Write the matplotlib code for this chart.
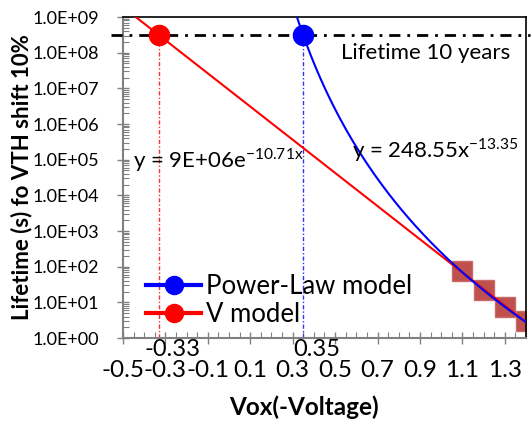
import numpy as np
import matplotlib
matplotlib.use("Agg")
import matplotlib.pyplot as plt
from matplotlib.ticker import FixedLocator, LogLocator, NullFormatter

plt.rcParams['font.family'] = ['Lato', 'DejaVu Sans']

# mesures (carrés)
vox_mes = [1.1, 1.2, 1.3, 1.4]
life_mes = [75, 22, 7.5, 3.0]

# modèles
a_exp, b_exp = 9e6, -10.71
a_pow, b_pow = 248.55, -13.35
ten_years = 3.15e8
x_v = -0.33
x_pl = 0.35

xticks = [-0.5, -0.3, -0.1, 0.1, 0.3, 0.5, 0.7, 0.9, 1.1, 1.3]
yticks = [1e0, 1e1, 1e2, 1e3, 1e4, 1e5, 1e6, 1e7, 1e8, 1e9]
ylabels = ["1.0E+00", "1.0E+01", "1.0E+02", "1.0E+03", "1.0E+04",
           "1.0E+05", "1.0E+06", "1.0E+07", "1.0E+08", "1.0E+09"]

fig = plt.figure(figsize=(5.32, 4.23), dpi=100)
ax = fig.add_axes([123/532, 1-338/423, (526-123)/532, (338-17)/423])

xe = np.linspace(-0.5, 1.4, 200)
ax.plot(xe, a_exp*np.exp(b_exp*xe), color="red", lw=1.5, zorder=3)
xp = np.linspace(0.32, 1.4, 200)
ax.plot(xp, a_pow*xp**b_pow, color="blue", lw=1.5, zorder=3)

ax.plot(vox_mes, life_mes, "s", color="#C0504D", mec="#C86A68", ms=14.5, zorder=2)

ax.plot([-0.555, 1.42], [ten_years, ten_years], color="black",
        ls=(0, (4, 2.5, 1, 2.5)), lw=2, zorder=4, clip_on=False)
ax.plot([x_v, x_v], [1, ten_years], color="#FF3030", ls=(0, (3, 1.5, 1, 1.5)), lw=1)
ax.plot([x_pl, x_pl], [1, ten_years], color="#3030FF", ls=(0, (3, 1.5, 1, 1.5)), lw=1)

ax.plot([x_pl], [ten_years], "o", color="blue", ms=14.5, zorder=5, clip_on=False)
ax.plot([x_v], [ten_years], "o", color="red", ms=14.5, zorder=5, clip_on=False)
# lignes de légende
h1, = ax.plot([], [], "-o", color="blue", lw=3, ms=13)
h2, = ax.plot([], [], "-o", color="red", lw=3, ms=13)
ax.legend([h1, h2], ["Power-Law model", "V model"], loc="lower left",
          bbox_to_anchor=(146/532, (423-327)/423), bbox_transform=fig.transFigure,
          frameon=False, fontsize=18.5, borderpad=0, borderaxespad=0,
          handlelength=2.15, handletextpad=0.2, labelspacing=0.12)

ax.set_xlim(-0.5, 1.4)
ax.set_yscale("log")
ax.set_ylim(1, 1e9)
ax.xaxis.set_major_locator(FixedLocator(xticks))
ax.xaxis.set_minor_locator(FixedLocator(np.arange(-0.5, 1.41, 0.05)))
ax.set_xticklabels([str(v) for v in xticks], fontsize=17.5)
ax.yaxis.set_major_locator(FixedLocator(yticks))
ax.yaxis.set_minor_locator(LogLocator(base=10, subs=np.arange(2, 10)))
ax.yaxis.set_minor_formatter(NullFormatter())
ax.set_yticklabels(ylabels, fontsize=13)

ax.tick_params(axis="both", which="major", direction="inout", length=8, color="gray", width=1)
ax.tick_params(axis="both", which="minor", direction="in", length=4, color="gray", width=0.8)
ax.tick_params(axis="x", pad=12)
ax.tick_params(axis="y", pad=13)
for s in ["left", "bottom"]:
    ax.spines[s].set_color("gray")
    ax.spines[s].set_linewidth(1.5)
for s in ["top", "right"]:
    ax.spines[s].set_color("black")
    ax.spines[s].set_linewidth(1.2)

ax.text(0.53, 1e8, "Lifetime 10 years", ha="left", va="center", fontsize=16)
ax.text(-0.455, 1e5, r"y = 9E+06e$^{\mathregular{-10.71x}}$", fontsize=16, va="center")
ax.text(0.58, 1.85e5, r"y = 248.55x$^{\mathregular{-13.35}}$", fontsize=16, va="center")
ax.text(x_v + 0.065, 0.47, "-0.33", fontsize=17, ha="center", va="center")
ax.text(x_pl + 0.065, 0.47, "0.35", fontsize=17, ha="center", va="center")

ax.set_xlabel("Vox(-Voltage)", fontsize=17.5, fontweight="bold", labelpad=10)
ax.xaxis.label.set_x((304-123)/403)
ax.set_ylabel("Lifetime (s) fo VTH shift 10%", fontsize=16, fontweight="bold", labelpad=0)

fig.savefig("out.png", dpi=100)
